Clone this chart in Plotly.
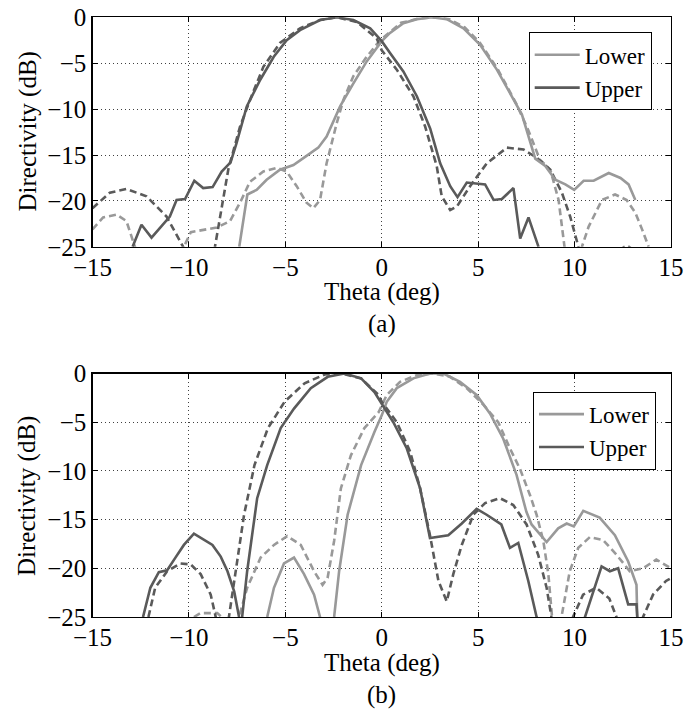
import plotly.graph_objects as go

# ---------------- data: panel (a) ----------------
a_lower_solid_x = [-7.39, -6.97, -6.49, -5.97, -5.28, -4.58, -3.9, -3.29, -2.86, -2.16, -1.47, -0.78, 0, 0.43, 1.12, 1.82, 2.6, 3.37, 4.24, 5.1, 5.97, 6.66, 7.27, 7.96, 8.48, 9.0, 9.52, 9.98, 10.47, 10.99, 11.77, 12.38, 12.8, 13.15]
a_lower_solid_y = [-25, -19.3, -18.8, -17.7, -16.6, -16.1, -15.1, -14.2, -13.0, -9.7, -7.2, -4.8, -2.6, -1.7, -0.65, -0.2, 0, -0.2, -1.2, -3.0, -5.7, -8.3, -10.6, -15.4, -16.2, -17.7, -18.2, -18.8, -17.8, -17.8, -16.96, -17.5, -18.2, -19.9]

a_upper_solid_x = [-12.92, -12.46, -11.94, -10.99, -10.64, -10.2, -9.72, -9.26, -8.77, -8.3, -7.84, -7.53, -7.0, -6.3, -5.6, -4.93, -4.24, -3.2, -2.33, -1.47, -0.6, 0, 0.43, 1.12, 1.82, 2.51, 3.03, 3.55, 3.93, 4.41, 5.36, 5.8, 6.23, 6.83, 7.18, 7.61, 8.13]
a_upper_solid_y = [-25, -22.6, -24.0, -21.7, -19.9, -19.8, -17.8, -18.6, -18.5, -16.8, -15.8, -13.7, -9.7, -6.8, -4.3, -2.5, -1.4, -0.3, 0, -0.3, -1.2, -2.6, -3.9, -5.9, -8.6, -12.1, -15.9, -18.4, -19.6, -18.0, -18.2, -19.9, -19.8, -18.6, -24.1, -21.8, -25]

a_lower_dash_x = [-15, -14.45, -13.75, -13.24, -12.8, -11.5, -10.26, -9.9, -8.56, -7.87, -7.35, -6.83, -6.14, -5.45, -4.93, -4.41, -3.9, -3.55, -3.2, -2.86, -2.33, -1.99, -1.47, -0.78, -0.09, 1.0, 2.0, 2.8, 3.5, 4.3, 5.1, 6.0, 7.0, 7.6, 8.2, 8.74, 9.17, 9.43, 9.9, 10.38, 10.73, 11.42, 12.1, 12.7, 13.15, 13.5, 13.84]
a_lower_dash_y = [-23.1, -21.8, -21.5, -22.2, -25, -32, -25, -23.4, -22.9, -22.2, -20.2, -17.9, -16.8, -16.4, -16.8, -18.4, -20.2, -20.8, -19.9, -15.9, -11.5, -9.0, -6.4, -4.3, -2.5, -0.6, -0.1, 0, -0.2, -1.1, -2.8, -5.6, -9.5, -12.3, -15.5, -16.6, -19.9, -25, -32, -25, -22.8, -19.9, -19.3, -19.9, -21.3, -23.1, -25]

a_upper_dash_x = [-15, -14.1, -13.24, -12.2, -11.16, -10.3, -9.5, -8.65, -7.96, -7.35, -6.83, -6.14, -5.28, -4.24, -3.2, -2.33, -1.3, -0.26, 0, 0.78, 1.64, 2.25, 2.85, 3.11, 3.55, 3.9, 4.58, 5.45, 6.49, 7.35, 8.04, 8.74, 9.34, 9.77, 10.2, 11.2, 12.3, 12.7, 13.1]
a_upper_dash_y = [-20.8, -19.1, -18.7, -19.5, -21.7, -25, -32, -25, -16.6, -11.9, -9.0, -5.4, -2.8, -1.2, -0.3, 0, -0.5, -2.3, -3.6, -5.7, -8.6, -11.9, -16.2, -19.5, -21.0, -20.6, -18.4, -15.9, -14.2, -14.4, -15.3, -16.6, -19.1, -21.7, -25, -32, -25.4, -24.85, -25.4]

# ---------------- data: panel (b) ----------------
b_lower_solid_x = [-5.94, -5.59, -5.07, -4.55, -4.03, -3.51, -3.2, -2.85, -2.47, -2.21, -1.77, -1.07, -0.38, 0, 0.26, 0.78, 1.64, 2.5, 3.2, 4.06, 4.92, 5.61, 6.3, 6.99, 7.5, 7.77, 8.55, 9.15, 9.59, 9.96, 10.45, 11.3, 12.09, 12.78, 13.21, 13.25]
b_lower_solid_y = [-25, -22.0, -19.5, -18.9, -20.6, -22.7, -25, -28, -25, -20.3, -14.5, -9.4, -6.0, -4.3, -2.9, -1.5, -0.5, 0, 0, -0.85, -2.2, -4.1, -6.7, -10.4, -14.2, -15.5, -17.3, -15.9, -15.4, -15.7, -14.1, -14.8, -16.6, -19.3, -21.7, -25]

b_upper_solid_x = [-12.38, -12.0, -11.56, -11.13, -10.7, -10.26, -9.74, -9.22, -8.78, -8.35, -8.0, -7.65, -7.4, -7.32, -7.24, -6.98, -6.46, -5.94, -5.24, -4.55, -3.68, -2.8, -1.94, -1.07, -0.38, 0, 0.6, 1.3, 1.99, 2.5, 3.45, 4.15, 4.92, 5.44, 6.2, 6.65, 7.08, 7.6, 8.03, 9.3, 10.54, 11.4, 11.83, 12.26, 12.78, 13.21, 13.25]
b_upper_solid_y = [-25, -22.0, -20.4, -20.2, -18.9, -17.6, -16.45, -17.1, -17.6, -18.8, -20.3, -22.4, -25, -27, -25, -20.3, -12.8, -9.4, -5.6, -3.6, -1.5, -0.34, 0, -0.5, -1.9, -3.1, -5.0, -7.7, -11.8, -16.9, -16.6, -15.4, -13.9, -14.5, -15.5, -17.9, -17.4, -21.3, -25, -32, -25, -19.8, -20.3, -20.0, -23.7, -23.7, -25]

b_lower_dash_x = [-9.74, -9.4, -8.53, -8.3, -7.9, -7.4, -6.98, -6.28, -5.59, -4.9, -4.2, -3.51, -3.07, -2.81, -2.47, -2.12, -1.6, -0.9, -0.17, 0.26, 0.95, 1.81, 2.68, 3.54, 4.4, 5.27, 6.04, 6.65, 7.17, 7.69, 8.03, 8.38, 8.64, 8.8, 9.05, 9.32, 9.75, 10.19, 10.79, 11.48, 12.17, 12.86, 13.55, 14.24, 15]
b_lower_dash_y = [-25, -24.6, -24.6, -25, -30, -25, -22.0, -18.9, -17.6, -16.7, -17.6, -20.3, -21.7, -21.0, -17.2, -11.8, -8.4, -5.6, -4.0, -2.2, -0.85, -0.17, 0, -0.34, -1.5, -3.2, -5.0, -7.7, -9.8, -12.5, -14.5, -17.2, -20.6, -25, -30, -25, -20.3, -17.9, -16.8, -17.1, -18.6, -20.3, -20.0, -19.1, -20.0]

b_upper_dash_x = [-12.1, -11.75, -11.13, -10.43, -9.91, -9.39, -8.87, -8.61, -8.3, -7.92, -7.57, -7.14, -6.6, -5.9, -5.04, -4.0, -2.96, -2.1, -1.07, -0.17, 0, 0.78, 1.47, 1.99, 2.5, 2.94, 3.37, 3.71, 4.15, 4.75, 5.36, 6.13, 6.82, 7.51, 8.11, 8.55, 8.8, 9.4, 9.92, 10.44, 11.12, 11.8, 12.17, 12.9, 13.55, 14.07, 14.74, 15]
b_upper_dash_y = [-25, -22.0, -20.3, -19.5, -19.6, -20.6, -22.7, -25, -30, -25, -20.3, -14.5, -9.4, -5.6, -2.9, -1.0, -0.1, 0, -0.5, -2.2, -2.9, -5.0, -8.0, -11.8, -16.6, -21.3, -23.4, -20.6, -17.6, -14.5, -13.3, -12.8, -13.5, -15.5, -18.6, -22.0, -25, -30, -25, -22.7, -22.0, -23.1, -25, -30, -25, -22.7, -21.3, -21.0]

x_ticks = [-15, -10, -5, 0, 5, 10, 15]
y_ticks = [0, -5, -10, -15, -20, -25]
series_names = ["Lower", "Upper"]
x_title = "Theta (deg)"
y_title = "Directivity (dB)"
captions = ["(a)", "(b)"]

LIGHT = "#999999"
DARK = "#5a5a5a"
FONT = "Liberation Serif, Times New Roman, serif"
W, H = 699, 709
LW = 2.6
DASH = "7px,4px"

fig = go.Figure()

def add(x, y, color, dash, xa, ya, name=None, legend=None):
    fig.add_trace(go.Scatter(
        x=x, y=y, mode="lines", xaxis=xa, yaxis=ya,
        line=dict(color=color, width=LW, dash=dash),
        name=name if name else "", showlegend=name is not None,
        legend=legend if legend else "legend", hoverinfo="skip"))

# panel (a)
add(a_lower_dash_x, a_lower_dash_y, LIGHT, DASH, "x", "y")
add(a_upper_dash_x, a_upper_dash_y, DARK, DASH, "x", "y")
add(a_lower_solid_x, a_lower_solid_y, LIGHT, "solid", "x", "y", series_names[0], "legend")
add(a_upper_solid_x, a_upper_solid_y, DARK, "solid", "x", "y", series_names[1], "legend")
# panel (b)
add(b_lower_dash_x, b_lower_dash_y, LIGHT, DASH, "x2", "y2")
add(b_upper_dash_x, b_upper_dash_y, DARK, DASH, "x2", "y2")
add(b_lower_solid_x, b_lower_solid_y, LIGHT, "solid", "x2", "y2", series_names[0], "legend2")
add(b_upper_solid_x, b_upper_solid_y, DARK, "solid", "x2", "y2", series_names[1], "legend2")

xdom = [92.5 / W, 671 / W]
top_px = (17.3, 246.8)
bot_px = (373.5, 617.0)

def ydom(p):
    return [1 - p[1] / H, 1 - p[0] / H]

axis_common = dict(
    showline=True, linecolor="black", linewidth=1.2, mirror="ticks",
    ticks="inside", ticklen=5, tickcolor="black", tickwidth=1,
    showgrid=True, gridcolor="rgba(0,0,0,0.75)", gridwidth=1, griddash="1px,3px",
    zeroline=False, automargin=False,
    tickfont=dict(family=FONT, size=25, color="black"),
)

fig.update_layout(
    template="none",
    width=W, height=H,
    margin=dict(l=0, r=0, t=0, b=0, autoexpand=False),
    paper_bgcolor="white", plot_bgcolor="white",
    font=dict(family=FONT, size=25, color="black"),
    xaxis=dict(domain=xdom, anchor="y", range=[-15, 15], tickvals=x_ticks, ticklabelstandoff=-2, **axis_common),
    yaxis=dict(domain=ydom(top_px), anchor="x", range=[-25, 0], tickvals=y_ticks, **axis_common),
    xaxis2=dict(domain=xdom, anchor="y2", range=[-15, 15], tickvals=x_ticks, ticklabelstandoff=-2, **axis_common),
    yaxis2=dict(domain=ydom(bot_px), anchor="x2", range=[-25, 0], tickvals=y_ticks, **axis_common),
    legend=dict(x=651.7 / W, y=1 - 32.3 / H, xanchor="right", yanchor="top",
                bgcolor="white", bordercolor="black", borderwidth=1, itemwidth=45,
                font=dict(family=FONT, size=23, color="black"), tracegroupgap=0),
    legend2=dict(x=656 / W, y=1 - 391.7 / H, xanchor="right", yanchor="top",
                 bgcolor="white", bordercolor="black", borderwidth=1, itemwidth=45,
                 font=dict(family=FONT, size=23, color="black"), tracegroupgap=0),
)

xc = (92.5 + 671) / 2 / W
for (axb, cap) in [(246.8, captions[0]), (617.0, captions[1])]:
    fig.add_annotation(text=x_title, xref="paper", yref="paper", x=xc, y=1 - (axb + 45.5) / H,
                       xanchor="center", yanchor="middle", showarrow=False,
                       font=dict(family=FONT, size=25, color="black"))
    fig.add_annotation(text=cap, xref="paper", yref="paper", x=xc, y=1 - (axb + 77.5) / H,
                       xanchor="center", yanchor="middle", showarrow=False,
                       font=dict(family=FONT, size=25, color="black"))

for yc in (131.5, 496):
    fig.add_annotation(text=y_title, xref="paper", yref="paper", x=27 / W, y=1 - yc / H,
                       xanchor="center", yanchor="middle", showarrow=False, textangle=-90,
                       font=dict(family=FONT, size=25, color="black"))

fig.write_html("out.html",
               config={"displayModeBar": False, "staticPlot": True},
               post_script="document.body.style.margin='0';document.body.style.padding='0';")
